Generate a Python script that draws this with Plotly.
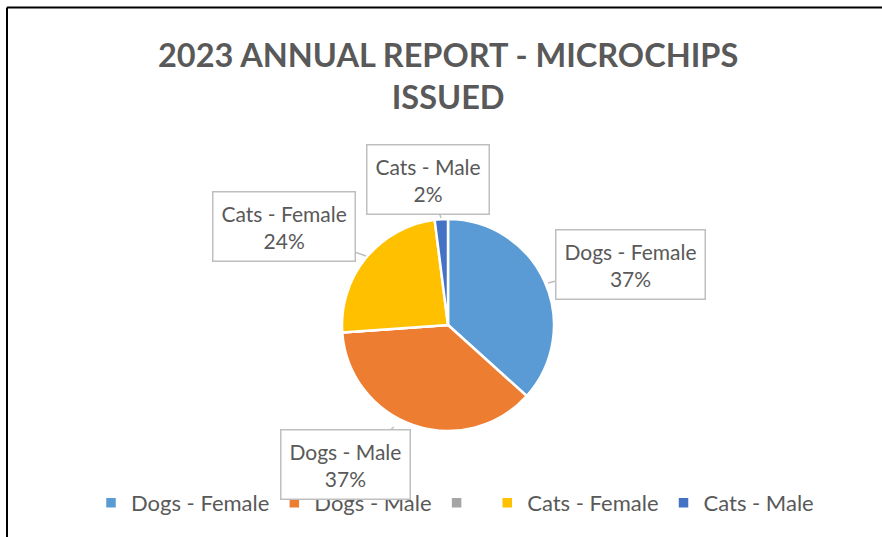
import plotly.graph_objects as go

# ---- data ----
LABELS = ["Dogs - Female", "Dogs - Male", " ", "Cats - Female", "Cats - Male"]
VALUES = [365, 370, 0, 240, 20]
COLORS = ["#5B9BD5", "#ED7D31", "#A5A5A5", "#FFC000", "#4472C4"]
TITLE = "2023 ANNUAL REPORT - MICROCHIPS<br>ISSUED"

W, H = 882, 537
FONT = "Lato"
GREY_TXT = "#595959"

# callout boxes: (box centre px, pointer tip px) -- layout only
CALLOUTS = {
    "Dogs - Female": ((630, 264), (548, 283)),
    "Dogs - Male": ((345, 464), (394, 427)),
    "Cats - Female": ((284, 227), (366, 256)),
    "Cats - Male": ((428, 179), (441, 218)),
}

def px(x, y):
    return x / W, 1 - y / H

# pie centre (448, 325), radius ~106
cx, cy, r = 448, 325, 106
x0, y1 = px(cx - r, cy - r)
x1, y0 = px(cx + r, cy + r)

fig = go.Figure()
fig.add_trace(go.Pie(
    labels=LABELS, values=VALUES, sort=False, direction="clockwise", rotation=0,
    marker=dict(colors=COLORS, line=dict(color="white", width=2.5)),
    textinfo="none", hoverinfo="label+percent",
    domain=dict(x=[x0, x1], y=[y0, y1]),
))

total = sum(VALUES)
anns = []
for lab, v in zip(LABELS, VALUES):
    if lab not in CALLOUTS:
        continue
    (bx, by), (tx, ty) = CALLOUTS[lab]
    pct = round(100 * v / total)
    ax_, ay_ = px(tx, ty)
    anns.append(dict(
        x=ax_, y=ay_, xref="paper", yref="paper",
        ax=bx - tx, ay=by - ty, axref="pixel", ayref="pixel",
        text=f"{lab}<br>{pct}%", showarrow=True, arrowhead=0,
        arrowcolor="#BFBFBF", arrowwidth=1.5,
        bordercolor="#BFBFBF", borderwidth=1.5, borderpad=8, bgcolor="white",
        font=dict(family=FONT, size=21, color=GREY_TXT), align="center",
    ))

anns.append(dict(
    x=px(448, 0)[0], y=px(0, 76)[1], xref="paper", yref="paper",
    text=f"<b>{TITLE}</b>", showarrow=False, xanchor="center", yanchor="middle",
    font=dict(family=FONT, size=32.5, color=GREY_TXT), align="center",
))

# outer frame
fx, fy = px(7, 7.5)
shapes = [
    dict(type="line", xref="paper", yref="paper", x0=fx, y0=-0.05, x1=fx, y1=fy,
         line=dict(color="black", width=2)),
    dict(type="line", xref="paper", yref="paper", x0=fx, y0=fy, x1=1.05, y1=fy,
         line=dict(color="black", width=2)),
]

lx, ly = px(91, 503)
fig.update_layout(
    width=W, height=H, margin=dict(l=0, r=0, t=0, b=0),
    paper_bgcolor="white", plot_bgcolor="white",
    annotations=anns, shapes=shapes,
    legend=dict(orientation="h", x=lx, y=ly, xanchor="left", yanchor="middle",
                font=dict(family=FONT, size=22, color=GREY_TXT),
                traceorder="normal", itemclick=False),
    font=dict(family=FONT),
)
fig.write_html("out.html", config={"displayModeBar": False},
               post_script="document.body.style.margin='0';")
